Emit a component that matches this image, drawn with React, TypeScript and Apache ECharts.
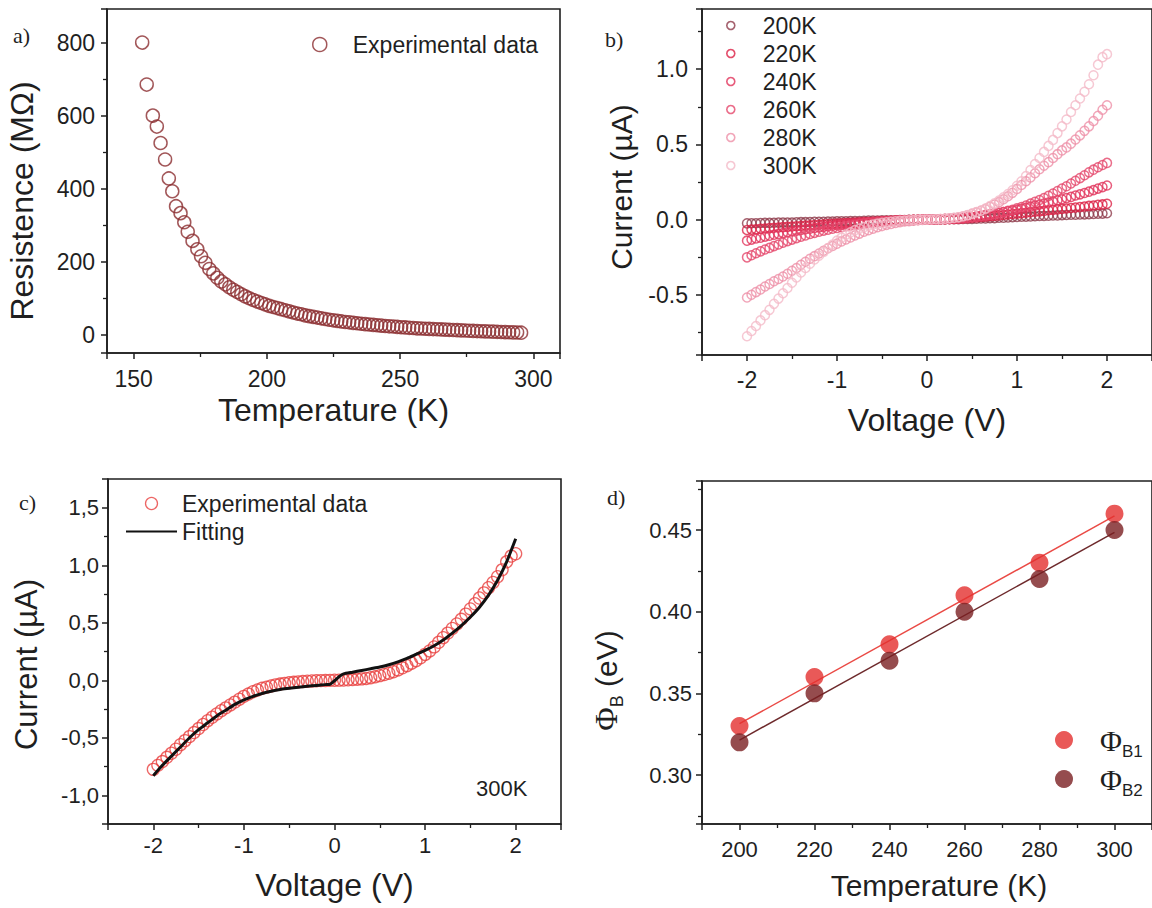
import React, { useEffect, useRef } from "react";
import * as echarts from "echarts";

const FONT = "'Liberation Sans', Arial, Helvetica, sans-serif";
const SERIF = "'Liberation Serif', 'Times New Roman', serif";
const INK = "#1f1f1f";

// ---------- Panel a : resistance vs temperature ----------
const tempA = [153.2, 154.9, 157.2, 158.7, 160.1, 161.8, 163.2, 164.5, 165.9, 167.6, 169.0, 170.3, 172.1, 173.9, 175.3, 176.9,
  178.4, 179.9, 181.4, 182.9, 184.4, 185.9, 187.4, 188.9, 190.4, 191.9, 193.4, 194.9, 196.4, 197.9, 199.4, 200.9, 202.4, 203.9,
  205.4, 206.9, 208.4, 209.9, 211.4, 212.9, 214.4, 215.9, 217.4, 218.9, 220.4, 221.9, 223.4, 224.9, 226.4, 227.9, 229.4, 230.9,
  232.4, 233.9, 235.4, 236.9, 238.4, 239.9, 241.4, 242.9, 244.4, 245.9, 247.4, 248.9, 250.4, 251.9, 253.4, 254.9, 256.4, 257.9,
  259.4, 260.9, 262.4, 263.9, 265.4, 266.9, 268.4, 269.9, 271.4, 272.9, 274.4, 275.9, 277.4, 278.9, 280.4, 281.9, 283.4, 284.9,
  286.4, 287.9, 289.4, 290.9, 292.4, 293.9, 295.4];
const resA = [800, 685, 600, 570, 525, 480, 428, 393, 352, 333, 308, 282, 257, 234, 215, 197,
  180, 168, 156, 146, 138, 130, 123, 117, 111, 105, 100, 95, 91, 87, 83, 79, 76, 73,
  70, 67, 64, 61, 58, 56, 53, 51, 49, 47, 45, 43, 41, 39.5, 38, 36.5, 35, 34,
  32.5, 31.5, 30, 29, 28, 27, 26, 25, 24, 23, 22.5, 21.5, 20.5, 20, 19, 18.5, 17.5, 17,
  16.5, 16, 15.5, 15, 14.5, 14, 13.5, 13, 12.5, 12, 11.5, 11, 10.5, 10, 9.6, 9.2, 8.8, 8.4,
  8, 7.6, 7.2, 6.8, 6.4, 6, 5.6];

// ---------- Panel b : I-V curves ----------
const voltage = [-2, -1.95, -1.9, -1.85, -1.8, -1.75, -1.7, -1.65, -1.6, -1.55, -1.5, -1.45, -1.4, -1.35, -1.3, -1.25, -1.2, -1.15,
  -1.1, -1.05, -1, -0.95, -0.9, -0.85, -0.8, -0.75, -0.7, -0.65, -0.6, -0.55, -0.5, -0.45, -0.4, -0.35, -0.3, -0.25, -0.2, -0.15,
  -0.1, -0.05, 0, 0.05, 0.1, 0.15, 0.2, 0.25, 0.3, 0.35, 0.4, 0.45, 0.5, 0.55, 0.6, 0.65, 0.7, 0.75, 0.8, 0.85, 0.9, 0.95, 1,
  1.05, 1.1, 1.15, 1.2, 1.25, 1.3, 1.35, 1.4, 1.45, 1.5, 1.55, 1.6, 1.65, 1.7, 1.75, 1.8, 1.85, 1.9, 1.95, 2];

const i200 = [-0.025, -0.024, -0.024, -0.023, -0.022, -0.022, -0.021, -0.02, -0.02, -0.019, -0.019, -0.018, -0.017, -0.017, -0.016,
  -0.015, -0.015, -0.014, -0.013, -0.013, -0.012, -0.011, -0.011, -0.01, -0.009, -0.009, -0.008, -0.007, -0.006, -0.006, -0.005,
  -0.005, -0.004, -0.004, -0.003, -0.003, -0.002, -0.002, -0.001, -0.001, 0,
  0, 0.001, 0.001, 0.002, 0.002, 0.003, 0.003, 0.004, 0.004, 0.005, 0.006, 0.007, 0.008, 0.009, 0.01, 0.012, 0.013, 0.014, 0.016,
  0.018, 0.019, 0.02, 0.021, 0.022, 0.024, 0.025, 0.026, 0.027, 0.028, 0.03, 0.031, 0.032, 0.033, 0.034, 0.035, 0.036, 0.037,
  0.039, 0.04, 0.042];
const i220 = [-0.069, -0.0665, -0.064, -0.0615, -0.059, -0.0565, -0.054, -0.052, -0.05, -0.048, -0.046, -0.044, -0.042, -0.04,
  -0.038, -0.036, -0.034, -0.032, -0.03, -0.0285, -0.027, -0.025, -0.023, -0.0215, -0.02, -0.0185, -0.017, -0.0155, -0.014,
  -0.0125, -0.011, -0.0095, -0.008, -0.007, -0.006, -0.005, -0.004, -0.003, -0.002, -0.001, 0,
  0, 0.001, 0.002, 0.003, 0.004, 0.005, 0.006, 0.008, 0.01, 0.012, 0.014, 0.017, 0.019, 0.022, 0.025, 0.028, 0.031, 0.034, 0.037,
  0.04, 0.043, 0.046, 0.049, 0.052, 0.055, 0.058, 0.062, 0.065, 0.068, 0.071, 0.074, 0.077, 0.08, 0.084, 0.087, 0.091, 0.094,
  0.098, 0.101, 0.105];
const i240 = [-0.14, -0.133, -0.126, -0.12, -0.113, -0.107, -0.101, -0.095, -0.089, -0.084, -0.079, -0.074, -0.069, -0.064, -0.06,
  -0.056, -0.052, -0.048, -0.044, -0.041, -0.038, -0.035, -0.032, -0.029, -0.026, -0.023, -0.021, -0.018, -0.016, -0.014, -0.012,
  -0.01, -0.008, -0.007, -0.005, -0.004, -0.003, -0.002, -0.001, 0, 0,
  0, 0.001, 0.002, 0.003, 0.004, 0.006, 0.008, 0.01, 0.013, 0.017, 0.021, 0.025, 0.03, 0.035, 0.04, 0.045, 0.05, 0.055, 0.06,
  0.066, 0.072, 0.079, 0.086, 0.093, 0.1, 0.107, 0.114, 0.121, 0.128, 0.135, 0.143, 0.151, 0.16, 0.168, 0.177, 0.186, 0.196,
  0.206, 0.216, 0.227];
const i260 = [-0.251, -0.237, -0.224, -0.211, -0.199, -0.188, -0.176, -0.165, -0.154, -0.143, -0.133, -0.123, -0.114, -0.105,
  -0.096, -0.088, -0.08, -0.073, -0.067, -0.061, -0.055, -0.05, -0.044, -0.039, -0.034, -0.03, -0.026, -0.022, -0.019, -0.016,
  -0.013, -0.011, -0.009, -0.007, -0.005, -0.004, -0.003, -0.002, -0.001, 0, 0,
  0, 0.001, 0.002, 0.003, 0.004, 0.006, 0.008, 0.01, 0.013, 0.016, 0.02, 0.024, 0.028, 0.032, 0.037, 0.043, 0.05, 0.058, 0.066,
  0.075, 0.084, 0.094, 0.106, 0.118, 0.13, 0.144, 0.158, 0.174, 0.19, 0.206, 0.222, 0.24, 0.258, 0.276, 0.295, 0.314, 0.332,
  0.348, 0.363, 0.377];
const i280 = [-0.518, -0.5, -0.482, -0.465, -0.445, -0.428, -0.41, -0.395, -0.378, -0.36, -0.34, -0.322, -0.3, -0.28, -0.26,
  -0.243, -0.225, -0.207, -0.19, -0.175, -0.16, -0.145, -0.132, -0.119, -0.105, -0.093, -0.081, -0.07, -0.06, -0.051, -0.043,
  -0.035, -0.029, -0.023, -0.017, -0.013, -0.01, -0.007, -0.004, -0.002, 0,
  0.001, 0.002, 0.003, 0.005, 0.008, 0.011, 0.015, 0.021, 0.029, 0.038, 0.048, 0.059, 0.071, 0.085, 0.1, 0.116, 0.135, 0.155,
  0.178, 0.204, 0.23, 0.255, 0.28, 0.308, 0.335, 0.358, 0.382, 0.41, 0.435, 0.46, 0.48, 0.505, 0.532, 0.56, 0.59, 0.62, 0.655,
  0.69, 0.73, 0.76];
const i300 = [-0.775, -0.74, -0.707, -0.67, -0.635, -0.6, -0.56, -0.525, -0.49, -0.455, -0.42, -0.385, -0.352, -0.322, -0.293,
  -0.265, -0.24, -0.215, -0.19, -0.165, -0.14, -0.12, -0.1, -0.085, -0.07, -0.06, -0.05, -0.04, -0.033, -0.027, -0.022, -0.018,
  -0.014, -0.011, -0.008, -0.006, -0.004, -0.003, -0.002, -0.001, 0,
  0.001, 0.002, 0.004, 0.006, 0.009, 0.012, 0.016, 0.022, 0.03, 0.04, 0.05, 0.061, 0.074, 0.09, 0.108, 0.127, 0.148, 0.17, 0.195,
  0.225, 0.255, 0.29, 0.33, 0.37, 0.41, 0.45, 0.49, 0.53, 0.575, 0.62, 0.665, 0.715, 0.76, 0.805, 0.85, 0.9, 0.96, 1.03, 1.08,
  1.1];

const tempLabels = ["200K", "220K", "240K", "260K", "280K", "300K"];
const ivSeries = [i200, i220, i240, i260, i280, i300];
const ivColors = ["#8e3b4b", "#dc2145", "#e1325a", "#e5476c", "#ee90a8", "#f4bac8"];

// ---------- Panel c : fitting at 300 K ----------
const fitV = [-2, -1.9, -1.8, -1.7, -1.6, -1.5, -1.4, -1.3, -1.2, -1.1, -1, -0.9, -0.8, -0.7, -0.6, -0.5, -0.4, -0.3, -0.2,
  -0.1, -0.05, 0.05, 0.1, 0.2, 0.3, 0.4, 0.5, 0.6, 0.7, 0.8, 0.9, 1, 1.1, 1.2, 1.3, 1.4, 1.5, 1.6, 1.7, 1.8, 1.9, 2];
const fitI = [-0.83, -0.74, -0.66, -0.58, -0.5, -0.43, -0.37, -0.31, -0.26, -0.21, -0.17, -0.14, -0.115, -0.095, -0.08, -0.07,
  -0.06, -0.052, -0.045, -0.038, -0.035, 0.03, 0.055, 0.07, 0.085, 0.1, 0.115, 0.135, 0.16, 0.19, 0.225, 0.26, 0.3, 0.35, 0.41,
  0.475, 0.55, 0.635, 0.74, 0.87, 1.03, 1.23];

// ---------- Panel d : barrier heights ----------
const tempD = [200, 220, 240, 260, 280, 300];
const phiB1 = [0.33, 0.36, 0.38, 0.41, 0.43, 0.46];
const phiB2 = [0.32, 0.35, 0.37, 0.4, 0.42, 0.45];
const fitT = [200, 300];
const fitB1 = [0.3314, 0.4586];
const fitB2 = [0.3214, 0.4486];

const zip = (xs: number[], ys: number[]) => xs.map((x, i) => [x, ys[i]]);

function axisBase(labelSize: number, labelMargin: number) {
  return {
    type: "value",
    nameLocation: "middle",
    axisLine: { show: true, onZero: false, lineStyle: { color: INK, width: 1.6 } },
    axisTick: { show: true, inside: false, length: 6, lineStyle: { color: INK, width: 1.5 } },
    minorTick: { show: true, splitNumber: 2, length: 4, lineStyle: { color: INK, width: 1.3 } },
    splitLine: { show: false },
    minorSplitLine: { show: false },
    axisLabel: {
      color: INK, fontSize: labelSize, fontFamily: FONT, margin: labelMargin,
      showMinLabel: false, showMaxLabel: false,
    },
    nameTextStyle: { color: INK, fontSize: 32, fontFamily: FONT },
  };
}

export default function App() {
  const ref = useRef<HTMLDivElement>(null);
  useEffect(() => {
    if (!ref.current) return;
    const chart = echarts.init(ref.current, undefined, { renderer: "svg" });
    const hollow = (c: string, w = 1.5) => ({ color: "rgba(0,0,0,0)", borderColor: c, borderWidth: w });
    const commaFmt = (v: number) => v.toFixed(1).replace(".", ",");

    const option: any = {
      animation: false,
      backgroundColor: "#ffffff",
      grid: [
        { left: 107, top: 9, width: 453, height: 344 },
        { left: 702, top: 9, width: 452, height: 346 },
        { left: 108, top: 479, width: 453, height: 345 },
        { left: 702, top: 481, width: 454, height: 343 },
      ].map((g) => ({ ...g, show: true, borderColor: INK, borderWidth: 1.6, backgroundColor: "transparent" })),
      xAxis: [
        { ...axisBase(23, 14), gridIndex: 0, min: 140, max: 310, splitNumber: 4, name: "Temperature (K)", nameGap: 41 },
        { ...axisBase(23, 13), gridIndex: 1, min: -2.5, max: 2.5, splitNumber: 5, name: "Voltage (V)", nameGap: 49 },
        { ...axisBase(22, 10), gridIndex: 2, min: -2.5, max: 2.5, splitNumber: 5, name: "Voltage (V)", nameGap: 45 },
        {
          ...axisBase(22, 14), gridIndex: 3, min: 190, max: 310, splitNumber: 6, name: "Temperature (K)", nameGap: 46,
          nameTextStyle: { color: INK, fontSize: 30, fontFamily: FONT, padding: [0, 0, 0, 24] },
        },
      ],
      yAxis: [
        {
          ...axisBase(23, 12), gridIndex: 0, min: -50, max: 892, splitNumber: 5, name: "Resistence (MΩ)", nameGap: 69,
          nameTextStyle: { color: INK, fontSize: 32, fontFamily: FONT, padding: [0, 40, 0, 0] },
        },
        {
          ...axisBase(23, 14), gridIndex: 1, min: -0.9, max: 1.4, splitNumber: 5, name: "Current (µA)", nameGap: 66,
          nameTextStyle: { color: INK, fontSize: 30, fontFamily: FONT, padding: [0, 10, 0, 0] },
          axisLabel: { ...axisBase(23, 14).axisLabel, formatter: (v: number) => v.toFixed(1) },
        },
        {
          ...axisBase(22, 9), gridIndex: 2, min: -1.25, max: 1.75, splitNumber: 5, name: "Current (µA)", nameGap: 66,
          nameTextStyle: { color: INK, fontSize: 31, fontFamily: FONT, padding: [0, 26, 0, 0] },
          axisLabel: { ...axisBase(22, 9).axisLabel, formatter: commaFmt },
        },
        {
          ...axisBase(22, 10), gridIndex: 3, min: 0.27, max: 0.48, splitNumber: 5,
          name: "{p|Φ}{s|B}{n| (eV)}", nameGap: 76,
          axisLabel: { ...axisBase(22, 10).axisLabel, formatter: (v: number) => v.toFixed(2) },
          nameTextStyle: {
            color: INK, padding: [0, 56, 0, 0],
            rich: {
              p: { fontFamily: SERIF, fontSize: 32, lineHeight: 40, color: INK },
              s: { fontFamily: FONT, fontSize: 18, lineHeight: 18, verticalAlign: "bottom", color: INK },
              n: { fontFamily: FONT, fontSize: 30, lineHeight: 40, color: INK },
            },
          },
        },
      ],
      legend: [
        {
          left: 307, top: 28, orient: "vertical", itemWidth: 56, itemHeight: 14,
          textStyle: { fontFamily: FONT, fontSize: 23, color: INK, lineHeight: 23 },
          data: [{ name: "Experimental data", icon: "circle", itemStyle: hollow("#8b2d2f") }],
        },
        {
          left: 721, top: 9, orient: "vertical", itemWidth: 54, itemHeight: 8, itemGap: 5,
          textStyle: { fontFamily: FONT, fontSize: 23, color: INK, lineHeight: 23 },
          data: tempLabels.map((n, k) => ({ name: n, icon: "circle", itemStyle: hollow(ivColors[k], 1.6) })),
        },
        {
          left: 120, top: 487, orient: "vertical", itemWidth: 51, itemHeight: 12, itemGap: 5,
          textStyle: { fontFamily: FONT, fontSize: 23, color: INK, lineHeight: 23 },
          data: [
            { name: "Experimental data", icon: "circle", itemStyle: hollow("#e8403f", 1.3) },
            { name: "Fitting", itemStyle: { opacity: 0 } },
          ],
        },
        {
          left: 1050, top: 720, orient: "vertical", itemWidth: 62, itemHeight: 18, itemGap: 4,
          formatter: (n: string) => `{p|Φ}{s|${n.slice(1)}}`,
          textStyle: {
            color: INK,
            rich: {
              p: { fontFamily: SERIF, fontSize: 30, lineHeight: 40, color: INK },
              s: { fontFamily: FONT, fontSize: 17, lineHeight: 17, verticalAlign: "bottom", color: INK },
            },
          },
          data: ["ΦB1", "ΦB2"],
        },
      ],
      series: [
        {
          type: "scatter", name: "Experimental data", xAxisIndex: 0, yAxisIndex: 0, symbol: "circle", symbolSize: 13,
          itemStyle: hollow("#8b2d2f"), data: zip(tempA, resA),
        },
        ...ivSeries.map((ys, k) => ({
          type: "scatter", name: tempLabels[k], xAxisIndex: 1, yAxisIndex: 1, symbol: "circle", symbolSize: 9,
          itemStyle: hollow(ivColors[k], 1.5), data: zip(voltage, ys),
        })),
        {
          type: "scatter", name: "Experimental data", xAxisIndex: 2, yAxisIndex: 2, symbol: "circle", symbolSize: 12,
          itemStyle: hollow("#e8403f", 1.3), data: zip(voltage, i300),
        },
        {
          type: "line", name: "Fitting", xAxisIndex: 2, yAxisIndex: 2, symbol: "none", smooth: 0.2,
          lineStyle: { color: "#111111", width: 3 }, itemStyle: { color: "#111111" }, data: zip(fitV, fitI), z: 5,
        },
        {
          type: "line", name: "fit B1", xAxisIndex: 3, yAxisIndex: 3, symbol: "none",
          lineStyle: { color: "#ea4a45", width: 1.5 }, data: zip(fitT, fitB1),
        },
        {
          type: "line", name: "fit B2", xAxisIndex: 3, yAxisIndex: 3, symbol: "none",
          lineStyle: { color: "#6e2a2c", width: 1.5 }, data: zip(fitT, fitB2),
        },
        {
          type: "scatter", name: "ΦB1", xAxisIndex: 3, yAxisIndex: 3, symbol: "circle", symbolSize: 18,
          itemStyle: { color: "#e3302e" }, data: zip(tempD, phiB1), z: 4,
        },
        {
          type: "scatter", name: "ΦB2", xAxisIndex: 3, yAxisIndex: 3, symbol: "circle", symbolSize: 18,
          itemStyle: { color: "#7a1f22" }, data: zip(tempD, phiB2), z: 4,
        },
      ],
      graphic: [
        { type: "text", left: 13, top: 24, style: { text: "a)", font: `22px ${SERIF}`, fill: INK } },
        { type: "text", left: 605, top: 28, style: { text: "b)", font: `22px ${SERIF}`, fill: INK } },
        { type: "text", left: 19, top: 491, style: { text: "c)", font: `22px ${SERIF}`, fill: INK } },
        { type: "text", left: 607, top: 486, style: { text: "d)", font: `22px ${SERIF}`, fill: INK } },
        { type: "text", left: 476, top: 777, style: { text: "300K", font: `22px ${FONT}`, fill: INK } },
      ],
    };
    chart.setOption(option);
    return () => chart.dispose();
  }, []);
  return (
    <div
      ref={ref}
      style={{ position: "absolute", left: 0, top: 0, width: 1152, height: 908, background: "#fff" }}
    />
  );
}
